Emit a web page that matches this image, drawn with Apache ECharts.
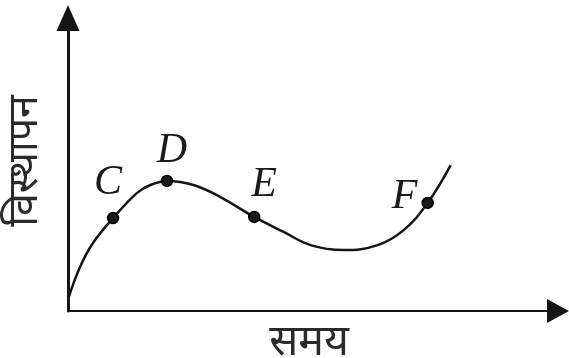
<!DOCTYPE html>
<html>
<head>
<meta charset="utf-8">
<script src="https://cdn.jsdelivr.net/npm/echarts@6/dist/echarts.min.js"></script>
<style>
  html, body { margin: 0; padding: 0; background: #fff; }
  #chart { width: 569px; height: 358px; }
</style>
</head>
<body>
<div id="chart"></div>
<script>
// Displacement–time curve (arbitrary units)
const curveTime = [0, 0.245, 0.51, 0.92, 1.41, 1.68, 2.02, 2.56, 3.11, 3.80, 4.40, 4.95, 5.62, 6.32, 6.85, 7.34, 7.81];
const curveDisp = [0.40, 1.50, 2.32, 3.17, 4.03, 4.30, 4.44, 4.30, 3.89, 3.21, 2.70, 2.25, 2.08, 2.25, 2.76, 3.69, 4.98];

// Marked instants on the curve
const pointNames = ['C', 'D', 'E', 'F'];
const pointTime = [0.92, 2.02, 3.80, 7.34];
const pointDisp = [3.17, 4.44, 3.21, 3.69];

// Axis titles
const xTitle = 'समय';
const yTitle = 'विस्थापन';

// Where each letter sits relative to its dot (px)
const letterOffset = { C: [-5, -35], D: [5, -30], E: [10, -32], F: [-23, -6] };

const ink = '#151515';
const chart = echarts.init(document.getElementById('chart'), null, { renderer: 'canvas' });

const axisCommon = {
  type: 'value',
  min: 0,
  max: 10,
  axisTick: { show: false },
  axisLabel: { show: false },
  splitLine: { show: false }
};

chart.setOption({
  animation: false,
  backgroundColor: '#fff',
  grid: { left: 68, right: 11, top: 18, bottom: 47 },
  xAxis: Object.assign({}, axisCommon, {
    axisLine: {
      show: true,
      lineStyle: { color: ink, width: 2 },
      symbol: ['none', 'triangle'],
      symbolSize: [24, 22]
    }
  }),
  yAxis: Object.assign({}, axisCommon, {
    axisLine: {
      show: true,
      lineStyle: { color: ink, width: 3 },
      symbol: ['none', 'triangle'],
      symbolSize: [23, 26]
    }
  }),
  series: [
    {
      type: 'line',
      data: curveTime.map((t, i) => [t, curveDisp[i]]),
      smooth: 0.4,
      showSymbol: false,
      lineStyle: { color: ink, width: 2.5 },
      z: 2
    },
    {
      type: 'scatter',
      data: pointNames.map((n, i) => ({
        name: n,
        value: [pointTime[i], pointDisp[i]],
        label: { offset: letterOffset[n] }
      })),
      symbol: 'circle',
      symbolSize: 11,
      itemStyle: { color: '#1a1a1a', borderColor: '#000', borderWidth: 1.5, opacity: 1 },
      label: {
        show: true,
        position: 'inside',
        formatter: p => p.name,
        color: '#1a1a1a',
        fontFamily: 'Liberation Serif',
        fontStyle: 'italic',
        fontSize: 42
      },
      z: 3
    }
  ],
  graphic: [
    {
      type: 'text',
      x: 309,
      y: 343,
      style: {
        text: xTitle,
        fill: '#2a2a2a',
        font: '43px "Noto Sans", sans-serif',
        align: 'center',
        verticalAlign: 'middle'
      }
    },
    {
      type: 'text',
      x: 25,
      y: 161,
      rotation: Math.PI / 2,
      style: {
        text: yTitle,
        fill: '#2a2a2a',
        font: '41px "Noto Sans", sans-serif',
        align: 'center',
        verticalAlign: 'middle'
      }
    }
  ]
});
</script>
</body>
</html>
